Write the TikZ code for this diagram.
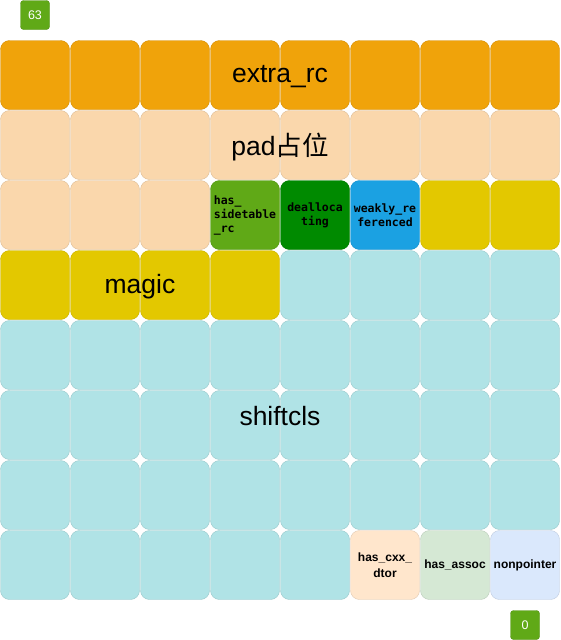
\documentclass[tikz,border=0pt]{standalone}
\usepackage{fontspec}
\setmainfont{Liberation Sans}
\setmonofont{DejaVu Sans Mono}
\newfontfamily\cjk{Noto Sans CJK SC}
\definecolor{extracol}{RGB}{240, 163, 10}
\definecolor{padcol}{RGB}{250, 215, 172}
\definecolor{sidecol}{RGB}{96, 169, 23}
\definecolor{dealloccol}{RGB}{0, 138, 0}
\definecolor{weakcol}{RGB}{27, 161, 226}
\definecolor{magiccol}{RGB}{227, 200, 0}
\definecolor{shiftcol}{RGB}{176, 227, 230}
\definecolor{cxxcol}{RGB}{255, 230, 204}
\definecolor{assoccol}{RGB}{213, 232, 212}
\definecolor{ptrcol}{RGB}{218, 232, 252}
\usepackage{tikz}

\begin{document}
\begin{tikzpicture}[x=1pt, y=-1pt,
    bitcell/.style={rectangle, rounded corners=9pt, minimum size=69pt, inner sep=0pt, line width=0.4pt},
    bigtext/.style={font=\fontsize{26.5}{30}\selectfont, text=black},
    monotext/.style={font=\fontsize{11.5}{14}\selectfont\ttfamily\bfseries, text=black, inner sep=0pt},
    sanstext/.style={font=\fontsize{12}{16}\selectfont\bfseries, text=black, inner sep=0pt, align=center},
    bitno/.style={rectangle, rounded corners=3pt, fill=sidecol, draw=sidecol!85!black, line width=0.4pt, text=white, minimum size=29pt, inner sep=0pt, font=\fontsize{12.5}{14}\selectfont}]
    \useasboundingbox (0,0) rectangle (560,640);
    % the 64 bits, row by row, from bit 63 down to bit 0
    \foreach \cells [count=\row from 0] in {
        {extracol,extracol,extracol,extracol,extracol,extracol,extracol,extracol},
        {padcol,padcol,padcol,padcol,padcol,padcol,padcol,padcol},
        {padcol,padcol,padcol,sidecol,dealloccol,weakcol,magiccol,magiccol},
        {magiccol,magiccol,magiccol,magiccol,shiftcol,shiftcol,shiftcol,shiftcol},
        {shiftcol,shiftcol,shiftcol,shiftcol,shiftcol,shiftcol,shiftcol,shiftcol},
        {shiftcol,shiftcol,shiftcol,shiftcol,shiftcol,shiftcol,shiftcol,shiftcol},
        {shiftcol,shiftcol,shiftcol,shiftcol,shiftcol,shiftcol,shiftcol,shiftcol},
        {shiftcol,shiftcol,shiftcol,shiftcol,shiftcol,cxxcol,assoccol,ptrcol}} {
        \foreach \c [count=\col from 0] in \cells {
            \node[bitcell, fill=\c, draw=\c!88!black] (b\row\col) at ({\col*70+35}, {\row*70+75}) {};
        }
    }
    % field names
    \node[bigtext] (extrarc) at (280,77) {extra\_rc};
    \node[bigtext] (pad) at (280,147) {pad{\cjk 占位}};
    \node[bigtext] (magic) at (140,287) {magic};
    \node[bigtext] (shiftcls) at (280,416) {shiftcls};
    \node[monotext, align=left] (sidetable) at (b23) {has\_\\sidetable\\\_rc};
    \node[monotext, align=center] (dealloc) at (b24) {dealloca\\ting};
    \node[monotext, align=center] (weakly) at (b25) {weakly\_re\\ferenced};
    \node[sanstext] (cxxdtor) at (b75) {has\_cxx\_\\dtor};
    \node[sanstext] (assoc) at (b76) {has\_assoc};
    \node[sanstext] (nonptr) at (b77) {nonpointer};
    % bit numbers
    \node[bitno] (hi) at (35,15) {63};
    \node[bitno] (lo) at (525,625) {0};
\end{tikzpicture}
\end{document}
